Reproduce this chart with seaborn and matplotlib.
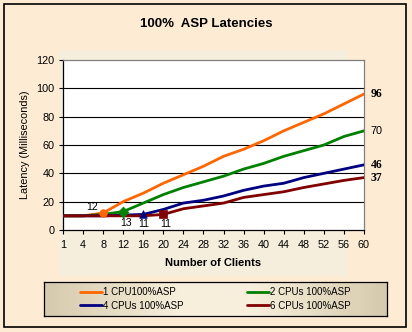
import numpy as np
import pandas as pd
import matplotlib
matplotlib.use("Agg")
import matplotlib.pyplot as plt
from matplotlib.lines import Line2D
from matplotlib.patches import Rectangle
import seaborn as sns

# Client counts shown on the category axis
clients = ["1", "4", "8", "12", "16", "20", "24", "28", "32", "36", "40", "44", "48", "52", "56", "60"]

# Latency (ms) per configuration
cpu1 = [10, 10, 12, 20, 26, 33, 39, 45, 52, 57, 63, 70, 76, 82, 89, 96]
cpu2 = [10, 10, 11, 13, 19, 25, 30, 34, 38, 43, 47, 52, 56, 60, 66, 70]
cpu4 = [10, 10, 10, 10.5, 11, 14.5, 19, 21, 24, 28, 31, 33, 37, 40, 43, 46]
cpu6 = [10, 10, 10, 10, 10, 11, 15, 17, 19, 23, 25, 27, 30, 32.5, 35, 37]

series_names = ["1 CPU100%ASP", "2 CPUs 100%ASP", "4 CPUs 100%ASP", "6 CPUs 100%ASP"]
series_values = [cpu1, cpu2, cpu4, cpu6]
colors = ["#FF6600", "#008000", "#000080", "#800000"]
markers = ["o", "D", "^", "s"]
marker_idx = [2, 3, 4, 5]          # point that carries the knee label
knee_offsets = [(-8, 4), (2, -8), (0, -7), (1.5, -7)]
end_styles = [
    dict(family="Liberation Serif", weight="bold", size=8.5),
    dict(family="Liberation Sans", weight="normal", size=7.8),
    dict(family="Liberation Serif", weight="bold", size=8.5),
    dict(family="Liberation Serif", weight="bold", size=8.5),
]

sns.set_theme(style="white")
plt.rcParams["font.family"] = ["Liberation Sans", "DejaVu Sans"]

W, H = 412, 332
fig = plt.figure(figsize=(W / 100, H / 100), dpi=100)
fig.patch.set_facecolor("#FDEBD4")

# lighter chart band and outer frame
fig.patches.append(Rectangle((60 / W, 1 - 276 / H), 288 / W, 226 / H,
                             transform=fig.transFigure, facecolor="#F6EEDD",
                             edgecolor="none", zorder=-2))
fig.patches.append(Rectangle((4 / W, 1 - 327 / H), 402 / W, 323 / H,
                             transform=fig.transFigure, facecolor="none",
                             edgecolor="black", linewidth=1.2, zorder=-1))

ax = fig.add_axes([63 / W, 1 - 230 / H, 301 / W, 170 / H])
ax.set_zorder(2)
ax.set_facecolor("white")

pos = np.arange(len(clients))
rows = []
for name, vals in zip(series_names, series_values):
    for p, v in zip(pos, vals):
        rows.append({"pos": p, "latency": v, "series": name})
df = pd.DataFrame(rows)

sns.lineplot(data=df, x="pos", y="latency", hue="series", hue_order=series_names,
             palette=colors, linewidth=2.0, legend=False, ax=ax, zorder=3)

for i, (vals, c, m) in enumerate(zip(series_values, colors, markers)):
    k = marker_idx[i]
    sns.scatterplot(x=[pos[k]], y=[vals[k]], color=c, marker=m, s=30,
                    edgecolor=c, linewidth=0.5, ax=ax, zorder=4, legend=False)
    ax.annotate(f"{vals[k]:g}", (pos[k], vals[k]), xytext=knee_offsets[i],
                textcoords="offset points", ha="center", va="center",
                fontsize=7.5, color="black", annotation_clip=False)
    ax.annotate(f"{vals[-1]:g}", (pos[-1], vals[-1]), xytext=(5, 0),
                textcoords="offset points", ha="left", va="center",
                color="black", annotation_clip=False, **end_styles[i])

ax.set_xlim(0, len(clients) - 1)
ax.set_ylim(0, 120)
ax.set_xticks(pos)
ax.set_xticklabels(clients)
ax.set_yticks(np.arange(0, 121, 20))
ax.tick_params(axis="both", labelsize=7.8, length=3, width=0.8, color="black",
               labelcolor="black", direction="out", bottom=True, left=True)
ax.tick_params(axis="x", pad=4)
ax.tick_params(axis="y", pad=3)
for y in range(20, 120, 20):
    ax.axhline(y, color="black", linewidth=0.8, zorder=1)

for side in ["left", "bottom"]:
    ax.spines[side].set_color("black")
    ax.spines[side].set_linewidth(0.9)
for side in ["top", "right"]:
    ax.spines[side].set_color("#808080")
    ax.spines[side].set_linewidth(0.9)

ax.set_xlabel("Number of Clients", fontsize=8, fontweight="bold", labelpad=6,
              color="black")
ax.set_ylabel("Latency (Milliseconds)", fontsize=7.8, labelpad=5, color="black")

fig.text(206 / W, 1 - 24 / H, "100%  ASP Latencies", ha="center", va="center",
         fontsize=9.5, fontweight="bold", color="black")

# legend box with shaded background
lax = fig.add_axes([44 / W, 1 - 316 / H, 343 / W, 34 / H])
grad = np.concatenate([np.linspace(0, 1, 40), np.ones(20), np.linspace(1, 0, 40)])
c_edge = np.array([0.84, 0.79, 0.68])
c_mid = np.array([0.97, 0.94, 0.86])
img = c_edge[None, None, :] + (c_mid - c_edge)[None, None, :] * grad[None, :, None]
lax.imshow(img, aspect="auto", extent=(0, 1, 0, 1))
lax.set_xticks([])
lax.set_yticks([])
for s in lax.spines.values():
    s.set_color("black")
    s.set_linewidth(0.9)

order = [0, 2, 1, 3]
handles = [Line2D([0], [0], color=colors[i], linewidth=2.0) for i in order]
labels = [series_names[i] for i in order]
lax.legend(handles, labels, ncol=2, loc="center", frameon=False, fontsize=7,
           handlelength=2.3, handletextpad=0.1, columnspacing=6.5,
           labelspacing=0.35, borderaxespad=0, labelcolor="black")

fig.savefig("out.png", dpi=100, facecolor=fig.get_facecolor())
